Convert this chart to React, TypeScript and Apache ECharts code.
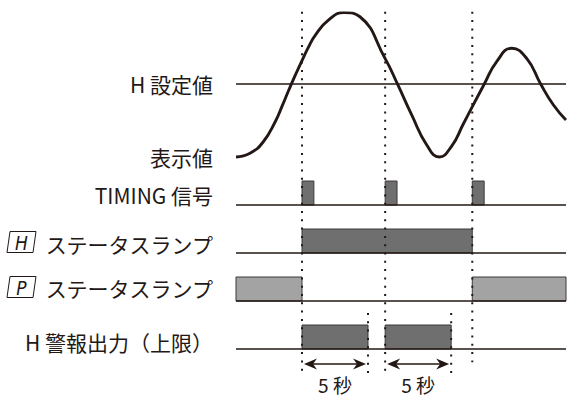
import React, { useEffect, useRef } from "react";
import * as echarts from "echarts";

// ---- data (time in seconds, display value in % of swing) ----
const timeMax = 25;
const setpointValue = 50.7;
const displayValue: [number, number][] = [
  [0, 0], [1.06, 2.6], [2.07, 10.6], [3, 25], [3.5, 35.5], [4, 46.5],
  [4.5, 57], [5, 67], [5.5, 76.5], [6, 84.5], [7, 95], [8.18, 100.3],
  [9.39, 97.4], [11.29, 68.5], [12.23, 50.7], [13.31, 29.2],
  [14.45, 8.3], [15.4, 0], [16.34, 7.6], [17.22, 22.9],
  [18.81, 50.7], [19.75, 66.3], [20.89, 75.5], [22.02, 68.5], [23.08, 50.7],
  [24.05, 36.1], [25, 25.7],
];
const timingPulses: [number, number][] = [[5, 5.9], [11.3, 12.2], [17.9, 18.8]];
const hStatusOn: [number, number][] = [[5, 17.9]];
const pStatusOn: [number, number][] = [[0, 5], [17.9, 25]];
const hAlarmOn: [number, number][] = [[5, 10], [11.3, 16.3]];
const eventTimes = [5, 11.3, 17.9];
const delayEnds = [10, 16.3];
const delayLabel = "5 秒";
const setpointLabel = "H 設定値";
const pvLabel = "表示値";
const rowLabels = ["TIMING 信号", "ステータスランプ", "ステータスランプ", "H 警報出力（上限）"];
const boxLetters = ["H", "P"];

// row base levels on the digital axis
const ROW_TIMING = 6, ROW_H = 4, ROW_P = 2, ROW_ALARM = 0;

const INK = "#231815";
const DARK = "#6f6f6f";
const LIGHT = "#a3a3a3";
const EDGE = "#3e3a39";
const FONT = "'Noto Sans CJK JP', 'Noto Sans', sans-serif";

export default function App() {
  const ref = useRef<HTMLDivElement>(null);
  useEffect(() => {
    if (!ref.current) return;
    const chart = echarts.init(ref.current, undefined, { renderer: "svg" });

    const bars: number[][] = [
      ...timingPulses.map(([a, b]) => [a, b, ROW_TIMING, 0]),
      ...hStatusOn.map(([a, b]) => [a, b, ROW_H, 0]),
      ...pStatusOn.map(([a, b]) => [a, b, ROW_P, 1]),
      ...hAlarmOn.map(([a, b]) => [a, b, ROW_ALARM, 0]),
    ];
    const baselines = [ROW_TIMING, ROW_H, ROW_P, ROW_ALARM].map((r) => [0, timeMax, r]);
    const dotted: number[][] = [
      [eventTimes[0], 14.05, -1],
      [eventTimes[1], 14.05, -1],
      [eventTimes[2], 14.05, -0.55],
      [delayEnds[0], 1.5, -1],
      [delayEnds[1], 1.5, -1],
    ];
    const arrows = [
      [eventTimes[0], delayEnds[0], -0.625],
      [eventTimes[1], delayEnds[1], -0.625],
    ];

    const labelStyle = { fill: INK, fontSize: 21, fontFamily: FONT };
    const textAt = (text: string, x: number, y: number) => ({
      type: "text",
      x,
      y,
      style: { ...labelStyle, text, textAlign: "right", textVerticalAlign: "middle" },
    });
    const box = (letter: string, cy: number) => ({
      type: "group",
      children: [
        {
          type: "polygon",
          shape: { points: [[10, cy - 10.5], [36, cy - 10.5], [33, cy + 10.5], [7, cy + 10.5]] },
          style: { fill: "none", stroke: INK, lineWidth: 1 },
        },
        {
          type: "text",
          x: 21.5,
          y: cy + 0.5,
          style: {
            text: letter,
            fill: INK,
            fontSize: 19,
            fontStyle: "italic",
            fontWeight: 300,
            fontFamily: "'DejaVu Sans Condensed', 'DejaVu Sans', sans-serif",
            textAlign: "center",
            textVerticalAlign: "middle",
          },
        },
      ],
    });

    chart.setOption({
      animation: false,
      grid: { left: 236, top: 13, width: 330, height: 360 },
      xAxis: { type: "value", min: 0, max: timeMax, show: false },
      yAxis: [
        { type: "value", min: -150, max: 100, show: false },
        { type: "value", min: -1, max: 14, show: false },
      ],
      graphic: [
        textAt(setpointLabel, 213, 84),
        textAt(pvLabel, 213, 157),
        textAt(rowLabels[0], 213, 195),
        textAt(rowLabels[1], 213, 244),
        textAt(rowLabels[2], 213, 288),
        textAt(rowLabels[3], 213, 342),
        box(boxLetters[0], 242),
        box(boxLetters[1], 287),
      ],
      series: [
        {
          type: "line",
          yAxisIndex: 0,
          data: [[0, setpointValue], [timeMax, setpointValue]],
          symbol: "none",
          lineStyle: { color: INK, width: 1.3 },
          z: 2,
        },
        {
          type: "line",
          yAxisIndex: 0,
          data: displayValue,
          symbol: "none",
          smooth: 0.5,
          lineStyle: { color: INK, width: 2.9 },
          z: 3,
        },
        {
          type: "custom",
          yAxisIndex: 1,
          data: bars,
          clip: false,
          z: 2,
          renderItem: (_p: any, api: any) => {
            const s = api.coord([api.value(0), api.value(2) + 1]);
            const e = api.coord([api.value(1), api.value(2)]);
            return {
              type: "rect",
              shape: { x: s[0], y: s[1], width: e[0] - s[0], height: e[1] - s[1] },
              style: { fill: api.value(3) === 1 ? LIGHT : DARK, stroke: EDGE, lineWidth: 1 },
            };
          },
        },
        {
          type: "custom",
          yAxisIndex: 1,
          data: baselines,
          clip: false,
          z: 3,
          renderItem: (_p: any, api: any) => {
            const s = api.coord([api.value(0), api.value(2)]);
            const e = api.coord([api.value(1), api.value(2)]);
            return {
              type: "line",
              shape: { x1: s[0], y1: s[1], x2: e[0], y2: e[1] },
              style: { stroke: INK, lineWidth: 1.3 },
            };
          },
        },
        {
          type: "custom",
          yAxisIndex: 1,
          data: dotted,
          clip: false,
          z: 4,
          renderItem: (_p: any, api: any) => {
            const s = api.coord([api.value(0), api.value(1)]);
            const e = api.coord([api.value(0), api.value(2)]);
            return {
              type: "line",
              shape: { x1: s[0], y1: s[1], x2: e[0], y2: e[1] },
              style: { stroke: INK, lineWidth: 2, lineDash: [2, 6.3] },
            };
          },
        },
        {
          type: "custom",
          yAxisIndex: 1,
          data: arrows,
          clip: false,
          z: 4,
          renderItem: (_p: any, api: any) => {
            const s = api.coord([api.value(0), api.value(2)]);
            const e = api.coord([api.value(1), api.value(2)]);
            const y = s[1];
            const hl = 13, hw = 5.5;
            const x0 = s[0] + 2, x1 = e[0] - 2;
            return {
              type: "group",
              children: [
                {
                  type: "line",
                  shape: { x1: x0 + 5, y1: y, x2: x1 - 5, y2: y },
                  style: { stroke: INK, lineWidth: 1.6 },
                },
                {
                  type: "polygon",
                  shape: { points: [[x0, y], [x0 + hl, y - hw], [x0 + hl - 4, y], [x0 + hl, y + hw]] },
                  style: { fill: INK },
                },
                {
                  type: "polygon",
                  shape: { points: [[x1, y], [x1 - hl, y - hw], [x1 - hl + 4, y], [x1 - hl, y + hw]] },
                  style: { fill: INK },
                },
                {
                  type: "text",
                  x: (s[0] + e[0]) / 2,
                  y: y + 20,
                  style: {
                    text: delayLabel,
                    fill: INK,
                    fontSize: 19,
                    fontFamily: FONT,
                    textAlign: "center",
                    textVerticalAlign: "middle",
                  },
                },
              ],
            };
          },
        },
      ],
    });
    return () => chart.dispose();
  }, []);
  return (
    <div
      ref={ref}
      style={{ position: "fixed", left: 0, top: 0, width: 567, height: 398, background: "#fff" }}
    />
  );
}
